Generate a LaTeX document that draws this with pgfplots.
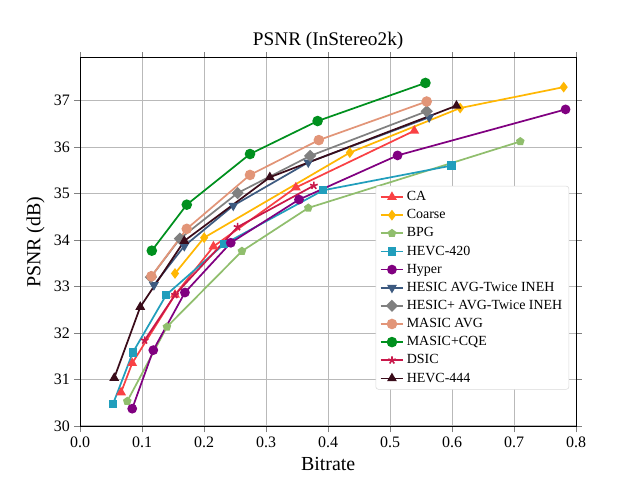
\documentclass[border=0pt]{standalone}
\usepackage{pgfplots}
\pgfplotsset{compat=1.18}
\usepackage{fontspec}
\setmainfont{Liberation Serif}
\usetikzlibrary{plotmarks}
\definecolor{cCA}{HTML}{F94144}
\definecolor{cCo}{HTML}{FFB703}
\definecolor{cBPG}{HTML}{90BE6D}
\definecolor{cH420}{HTML}{219EBC}
\definecolor{cHy}{HTML}{800080}
\definecolor{cHE}{HTML}{3D5A80}
\definecolor{cHEp}{HTML}{808080}
\definecolor{cMA}{HTML}{E29578}
\definecolor{cMC}{HTML}{00901E}
\definecolor{cDS}{HTML}{C9184A}
\definecolor{cH444}{HTML}{3A0C1A}
\begin{document}
\begin{tikzpicture}
\begin{axis}[
 scale only axis, width=13.12cm, height=9.76cm,
 xmin=0, xmax=0.8, ymin=29.98, ymax=37.92,
 xtick={0,0.1,...,0.8}, ytick={30,...,37},
 xticklabel style={/pgf/number format/.cd,fixed,fixed zerofill,precision=1},
 /pgf/number format/assume math mode=true,
 tick label style={font=\fontsize{12}{14}\selectfont},
 grid=major, major grid style={gray!55, line width=0.6pt},
 tick align=outside, axis line style={line width=0.8pt},
 xlabel={Bitrate}, ylabel={PSNR (dB)},
 label style={font=\fontsize{15}{17}\selectfont},
 title={PSNR (InStereo2k)}, title style={font=\fontsize{14.5}{16}\selectfont, yshift=-3pt},
 every axis plot/.append style={line width=1.3pt, mark size=3pt},
 legend style={at={(0.986,0.653)}, anchor=north east, font=\fontsize{10.5}{12}\selectfont, draw=gray!30, rounded corners=2pt, row sep=1.2pt},
 legend cell align=left,
]
\addplot[cCA, mark=triangle*] coordinates {(0.066,30.72)(0.084,31.35)(0.153,32.82)(0.215,33.86)(0.348,35.13)(0.539,36.35)};
\addlegendentry{CA}
\addplot[cCo, mark=diamond*] coordinates {(0.153,33.28)(0.200,34.05)(0.435,35.88)(0.613,36.84)(0.780,37.29)};
\addlegendentry{Coarse}
\addplot[cBPG, mark=pentagon*, mark size=2.6pt] coordinates {(0.076,30.53)(0.140,32.13)(0.261,33.76)(0.368,34.69)(0.710,36.12)};
\addlegendentry{BPG}
\addplot[cH420, mark=square*, mark size=2.5pt] coordinates {(0.053,30.47)(0.085,31.58)(0.139,32.82)(0.232,33.91)(0.392,35.07)(0.599,35.60)};
\addlegendentry{HEVC-420}
\addplot[cHy, mark=*] coordinates {(0.084,30.37)(0.118,31.63)(0.169,32.87)(0.243,33.94)(0.353,34.87)(0.512,35.82)(0.783,36.81)};
\addlegendentry{Hyper}
\addplot[cHE, mark=triangle*, mark options={rotate=180}] coordinates {(0.119,33.03)(0.168,33.87)(0.247,34.74)(0.368,35.67)(0.563,36.64)};
\addlegendentry{HESIC AVG-Twice INEH}
\addplot[cHEp, mark=square*, mark options={rotate=45}, mark size=2.6pt] coordinates {(0.114,33.20)(0.161,34.03)(0.254,35.01)(0.371,35.81)(0.559,36.77)};
\addlegendentry{HESIC+ AVG-Twice INEH}
\addplot[cMA, mark=*, mark size=3.3pt] coordinates {(0.115,33.22)(0.172,34.24)(0.274,35.40)(0.385,36.15)(0.559,36.98)};
\addlegendentry{MASIC AVG}
\addplot[cMC, mark=*, mark size=3.3pt] coordinates {(0.1156,33.77)(0.172,34.76)(0.274,35.85)(0.383,36.56)(0.557,37.38)};
\addlegendentry{MASIC+CQE}
\addplot[cDS, mark=star, mark options={line width=1.2pt}] coordinates {(0.104,31.84)(0.153,32.82)(0.254,34.28)(0.377,35.17)};
\addlegendentry{DSIC}
\addplot[cH444, mark=triangle*] coordinates {(0.055,31.03)(0.097,32.56)(0.168,33.98)(0.306,35.35)(0.607,36.89)};
\addlegendentry{HEVC-444}
\end{axis}
\path (-2.12cm,-1.40cm) rectangle (14.81cm,11.29cm);
\end{tikzpicture}
\end{document}
